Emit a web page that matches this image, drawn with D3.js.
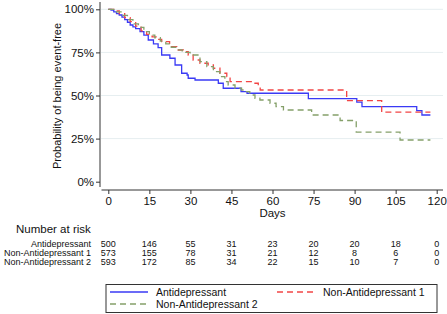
<!DOCTYPE html>
<html><head><meta charset="utf-8">
<script src="https://cdn.jsdelivr.net/npm/d3@7"></script>
<style>body{margin:0;background:#fff}svg{display:block;font-family:"Liberation Sans",Arial,sans-serif}</style>
</head><body><svg id="c" width="447" height="314"></svg>
<script>
const seriesNames = ["Antidepressant","Non-Antidepressant 1","Non-Antidepressant 2"];
const seriesColors = ["#3a3af5","#f24545","#85a06a"];
const seriesDash = [null,"6,4","6,4"];
// Kaplan-Meier step points: [day, survival]
const antidepressant = [[0,1],[1,0.995],[2,0.985],[3,0.975],[4,0.967],[5,0.955],[6,0.94],[7,0.925],[8,0.909],[9,0.898],[10,0.888],[11.6,0.87],[13,0.85],[14.6,0.822],[16.5,0.8],[18.2,0.778],[19.5,0.735],[22.5,0.716],[24.4,0.677],[26.8,0.629],[28.8,0.619],[29.2,0.6],[31.7,0.59],[40.2,0.571],[42,0.542],[48.5,0.522],[50.7,0.513],[73.1,0.482],[90.8,0.461],[92.7,0.435],[112.7,0.412],[114.6,0.387],[117.7,0.387]];
const nonAntidepressant1 = [[0,1],[2,0.99],[4,0.975],[6,0.952],[8,0.928],[10,0.902],[12,0.875],[14,0.855],[16,0.84],[18,0.825],[19.5,0.812],[22.4,0.783],[25,0.764],[27.4,0.754],[29.2,0.735],[31,0.706],[33.5,0.687],[36.5,0.677],[38.4,0.658],[40.8,0.629],[43.3,0.609],[44.5,0.58],[53.6,0.571],[54.8,0.551],[55.5,0.532],[87.1,0.47],[99.9,0.403],[117.7,0.403]];
const nonAntidepressant2 = [[0,1],[3,0.985],[5,0.965],[7,0.94],[9,0.915],[11,0.895],[13,0.87],[15,0.85],[17,0.835],[19,0.815],[21,0.8],[23,0.78],[25,0.765],[27,0.75],[29.9,0.735],[33.5,0.696],[36,0.667],[38.4,0.638],[40.8,0.609],[42.6,0.58],[43.8,0.561],[46.3,0.542],[48.7,0.532],[50.5,0.522],[51.7,0.503],[53.6,0.484],[55.4,0.474],[59.1,0.455],[61.3,0.435],[64,0.416],[74.3,0.387],[84.7,0.355],[90.6,0.288],[106.6,0.242],[117.7,0.242]];
const xTicks = [0,15,30,45,60,75,90,105,120];
const yTicks = [0,0.25,0.5,0.75,1];
const riskAntidepressant = [500,146,55,31,23,20,20,18,0];
const riskNonAntidepressant1 = [573,155,78,31,21,12,8,6,0];
const riskNonAntidepressant2 = [593,172,85,34,22,15,10,7,0];

const allSeries = [antidepressant, nonAntidepressant1, nonAntidepressant2];
const riskRows = [riskAntidepressant, riskNonAntidepressant1, riskNonAntidepressant2];

const svg = d3.select("#c");
const x = d3.scaleLinear().domain([0,120]).range([108.3,436.7]);
const y = d3.scaleLinear().domain([0,1]).range([181.7,9.3]);

// gridlines
svg.append("g").selectAll("line").data(yTicks.filter(d=>d>0)).join("line")
  .attr("x1",101).attr("x2",443).attr("y1",d=>y(d)).attr("y2",d=>y(d))
  .attr("stroke","#e6eef0").attr("stroke-width",1);

// y axis
const yAxis = svg.append("g").attr("transform","translate(100,0)")
  .call(d3.axisLeft(y).tickValues(yTicks).tickFormat(d3.format(".0%")).tickSize(4).tickPadding(2));
yAxis.select(".domain").attr("d","M0,2V187");
yAxis.selectAll("text").attr("font-size",11.5).attr("font-family","Liberation Sans, Arial, sans-serif").attr("fill","#111");
yAxis.selectAll("line,.domain").attr("stroke","#333");

// x axis
const xAxis = svg.append("g").attr("transform","translate(0,190)")
  .call(d3.axisBottom(x).tickValues(xTicks).tickSize(4).tickPadding(3));
xAxis.select(".domain").attr("d","M101.5,0H443");
xAxis.selectAll("text").attr("font-size",11.5).attr("font-family","Liberation Sans, Arial, sans-serif").attr("fill","#111");
xAxis.selectAll("line,.domain").attr("stroke","#333");

svg.append("text").attr("x",272.5).attr("y",217).attr("text-anchor","middle")
  .attr("font-size",11.5).attr("fill","#111").text("Days");
svg.append("text").attr("transform","translate(61,96) rotate(-90)").attr("text-anchor","middle")
  .attr("font-size",11).attr("fill","#111").text("Probability of being event-free");

// curves
const line = d3.line().x(d=>x(d[0])).y(d=>y(d[1])).curve(d3.curveStepAfter);
allSeries.forEach((s,i)=>{
  svg.append("path").datum(s).attr("d",line).attr("fill","none")
    .attr("stroke",seriesColors[i]).attr("stroke-width",1.3)
    .attr("stroke-dasharray",seriesDash[i]);
});

// risk table
svg.append("text").attr("x",16).attr("y",233).attr("font-size",11.5).attr("fill","#111").text("Number at risk");
const rowY = [247,256,265];
riskRows.forEach((row,i)=>{
  svg.append("text").attr("x",91).attr("y",rowY[i]).attr("text-anchor","end")
    .attr("font-size",9).attr("fill","#111").text(seriesNames[i]);
  svg.append("g").selectAll("text").data(row).join("text")
    .attr("x",(d,j)=>x(xTicks[j])).attr("y",rowY[i]).attr("text-anchor","middle")
    .attr("font-size",9).attr("fill","#111").text(d=>d);
});

// legend
svg.append("rect").attr("x",106).attr("y",284.5).attr("width",331).attr("height",28)
  .attr("fill","#fff").attr("stroke","#333").attr("stroke-width",1);
const legPos = [[110,292],[277,292],[110,304]];
seriesNames.forEach((n,i)=>{
  const [lx,ly]=legPos[i];
  svg.append("line").attr("x1",lx).attr("x2",lx+38).attr("y1",ly).attr("y2",ly)
    .attr("stroke",seriesColors[i]).attr("stroke-width",1.3).attr("stroke-dasharray",seriesDash[i]);
  svg.append("text").attr("x",lx+46).attr("y",ly+3.7).attr("font-size",10.5).attr("fill","#111").text(n);
});
</script></body></html>
